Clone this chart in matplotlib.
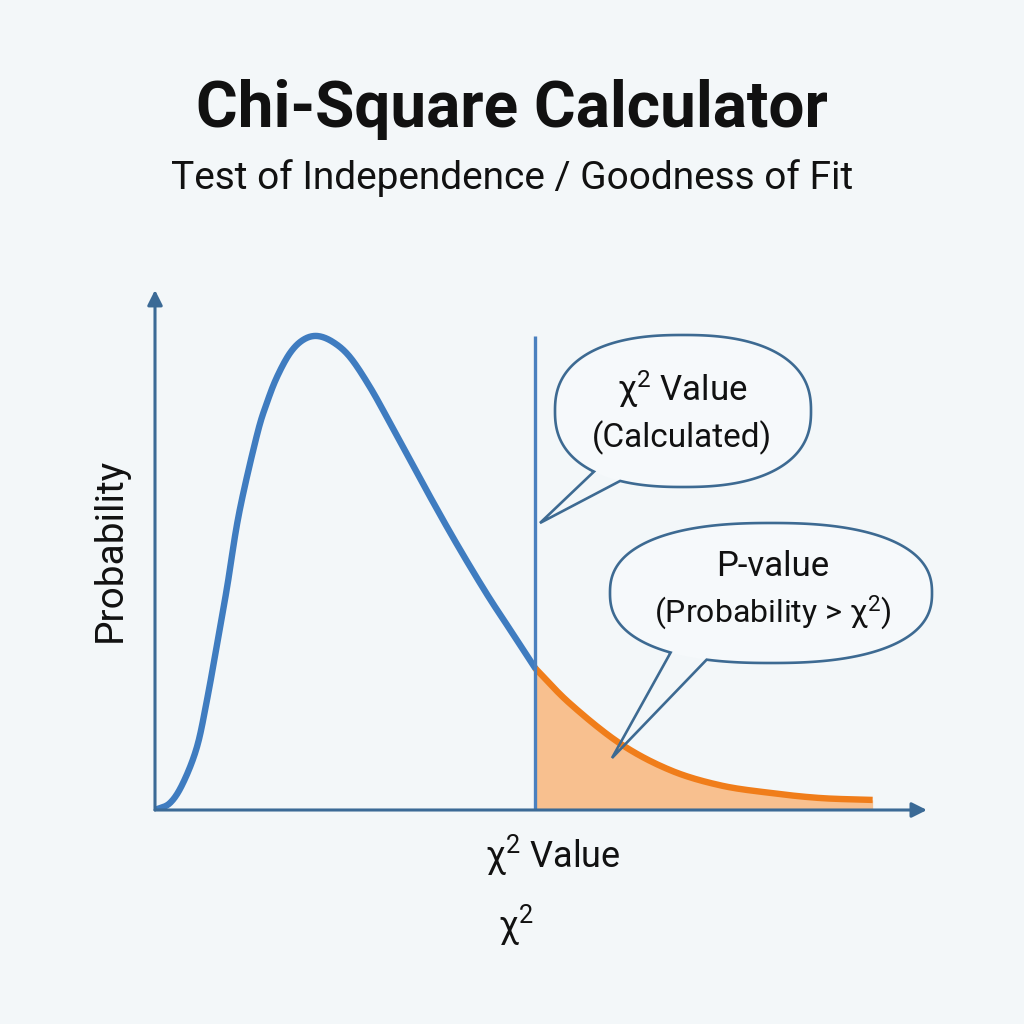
import numpy as np
import matplotlib
matplotlib.use("Agg")
import matplotlib.pyplot as plt
from matplotlib.path import Path
from matplotlib.patches import PathPatch

plt.rcParams['font.family'] = ['Roboto', 'DejaVu Sans']
plt.rcParams['mathtext.fontset'] = 'custom'
plt.rcParams['mathtext.rm'] = 'Roboto'
plt.rcParams['mathtext.it'] = 'Roboto'

# ---- data ----
chi_x = [0.0, 0.195, 0.364, 0.545, 0.675, 0.805, 0.935, 1.091, 1.325, 1.455,
         1.584, 1.753, 1.922, 2.104, 2.312, 2.532, 2.792, 3.052, 3.312, 3.571,
         3.831, 4.091, 4.351, 4.610, 4.94]
chi_y = [0.0, 0.0037, 0.0142, 0.0332, 0.0579, 0.0870, 0.1170, 0.1560, 0.1975,
         0.2145, 0.2279, 0.2405, 0.2474, 0.2495, 0.2463, 0.2384, 0.2226, 0.2037,
         0.1842, 0.1650, 0.1462, 0.1282, 0.1110, 0.0950, 0.0745]
tail_x = [4.94, 5.39, 6.04, 6.69, 7.34, 7.99, 8.64, 9.32]
tail_y = [0.0745, 0.056, 0.035, 0.021, 0.013, 0.009, 0.0063, 0.0053]
critical_value = 4.94

title = "Chi-Square Calculator"
subtitle = "Test of Independence / Goodness of Fit"
xlabel = "χ$^{2}$ Value"
xlabel2 = "χ$^{2}$"
ylabel = "Probability"
bubble1_text = ["χ$^{2}$ Value", "(Calculated)"]
bubble2_text = ["P-value", "(Probability > χ$^{2}$)"]

BG = '#f3f7f9'
BLUE = '#3f7cc0'
AXC = '#3b6a96'
ORANGE = '#f07d1a'
FILL = '#f8c08f'
EDGE = '#3d6a92'

W = H = 1024
fig = plt.figure(figsize=(10.24, 10.24), dpi=100, facecolor=BG)

def fp(x, y):
    return x / W, 1 - y / H

def smooth(xs, ys, k=24):
    """Catmull-Rom spline through the read points (for drawing only)."""
    p = np.column_stack([xs, ys]).astype(float)
    p = np.vstack([2 * p[0] - p[1], p, 2 * p[-1] - p[-2]])
    out = []
    t = np.linspace(0, 1, k, endpoint=False)[:, None]
    for i in range(1, len(p) - 2):
        p0, p1, p2, p3 = p[i - 1], p[i], p[i + 1], p[i + 2]
        seg = 0.5 * ((2 * p1) + (-p0 + p2) * t + (2 * p0 - 5 * p1 + 4 * p2 - p3) * t ** 2
                     + (-p0 + 3 * p1 - 3 * p2 + p3) * t ** 3)
        out.append(seg)
    out.append(p[-2][None, :])
    out = np.vstack(out)
    return out[:, 0], np.clip(out[:, 1], 0, None)

ax = fig.add_axes([155 / W, 1 - 810 / H, (925 - 155) / W, (810 - 290) / H])
ax.set_facecolor(BG)
ax.set_xlim(0, 10)
ax.set_ylim(0, 0.2737)
for s in ax.spines.values():
    s.set_visible(False)
ax.set_xticks([])
ax.set_yticks([])

cx_s, cy_s = smooth(chi_x, chi_y)
tx_s, ty_s = smooth(tail_x, tail_y)

ax.fill_between(tx_s, 0, ty_s, color=FILL, lw=0, zorder=1)
ax.plot(cx_s, cy_s, color=BLUE, lw=4.6, solid_capstyle='round', zorder=3)
ax.plot(tx_s, ty_s, color=ORANGE, lw=4.6, solid_capstyle='butt', zorder=3)
ax.vlines(critical_value, 0, max(chi_y), color='#4a80bf', lw=2.4, zorder=4)

# axes with arrows
for xy in [(1.0025, 0), (0, 1.0)]:
    ax.annotate('', xy=xy, xytext=(0, 0), xycoords='axes fraction',
                arrowprops=dict(arrowstyle='-|>,head_length=0.9,head_width=0.45',
                                color=AXC, lw=2.2, shrinkA=0, shrinkB=0),
                annotation_clip=False, zorder=5)

# speech bubbles (figure pixel coordinates)
def superellipse(cx, cy, a, b, n, m=500):
    t = np.linspace(0, 2 * np.pi, m, endpoint=False)
    c, s = np.cos(t), np.sin(t)
    x = cx + a * np.sign(c) * np.abs(c) ** (2 / n)
    y = cy + b * np.sign(s) * np.abs(s) ** (2 / n)
    return x, y

def bubble(cx, cy, a, b, x1, x2, tip, n=2.4):
    x, y = superellipse(cx, cy, a, b, n)
    pts = [fp(xi, yi) for xi, yi in zip(x, y)]
    body = Path(pts + [pts[0]], [Path.MOVETO] + [Path.LINETO] * (len(pts) - 1) + [Path.CLOSEPOLY])
    fig.patches.append(PathPatch(body, transform=fig.transFigure, facecolor='#f6f9fb',
                                 edgecolor='none', zorder=6))
    bottom = (y > cy)
    cut = np.where(bottom & (x >= x1) & (x <= x2))[0]
    i0, i1 = cut.min(), cut.max()
    ox = list(x[:i0]) + [tip[0]] + list(x[i1 + 1:])
    oy = list(y[:i0]) + [tip[1]] + list(y[i1 + 1:])
    opts = [fp(xi, yi) for xi, yi in zip(ox, oy)]
    outline = Path(opts + [opts[0]], [Path.MOVETO] + [Path.LINETO] * (len(opts) - 1) + [Path.CLOSEPOLY])
    fig.patches.append(PathPatch(outline, transform=fig.transFigure, facecolor='none',
                                 edgecolor=EDGE, lw=1.9, zorder=7, joinstyle='miter'))

bubble(683, 411, 128, 76, 594, 620, (540, 523))
bubble(771, 593, 161, 70, 672, 706, (612, 758))

tc = '#111111'
fig.text(*fp(682, 389), bubble1_text[0], ha='center', va='center', fontsize=25, color=tc, zorder=8)
fig.text(*fp(682, 438), bubble1_text[1], ha='center', va='center', fontsize=24, color=tc, zorder=8)
fig.text(*fp(773, 566), bubble2_text[0], ha='center', va='center', fontsize=25, color=tc, zorder=8)
fig.text(*fp(773, 612), bubble2_text[1], ha='center', va='center', fontsize=23, color=tc, zorder=8)

# titles and labels
fig.text(*fp(512, 110), title, ha='center', va='center', fontsize=46, fontweight='bold', color=tc)
fig.text(*fp(512, 178), subtitle, ha='center', va='center', fontsize=28, color=tc)
fig.text(*fp(553, 855), xlabel, ha='center', va='center', fontsize=26, color=tc)
fig.text(*fp(516, 925), xlabel2, ha='center', va='center', fontsize=26, color=tc)
fig.text(*fp(110, 550), ylabel, ha='center', va='center', fontsize=28, color=tc, rotation=90)

fig.savefig('out.png', dpi=100, facecolor=BG)
